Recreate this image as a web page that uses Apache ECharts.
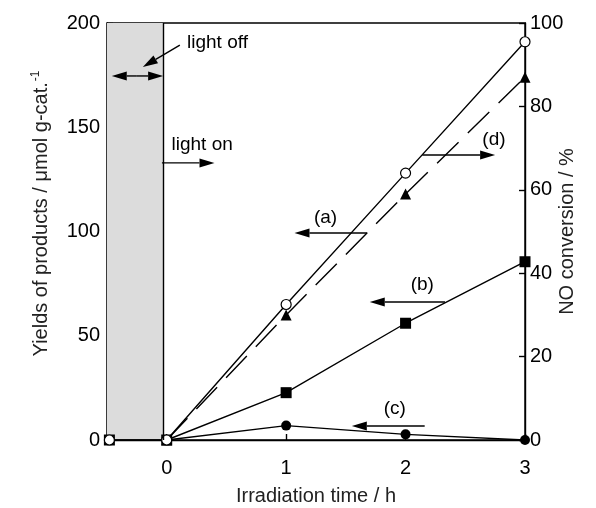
<!DOCTYPE html>
<html>
<head>
<meta charset="utf-8">
<script src="https://cdn.jsdelivr.net/npm/echarts@6/dist/echarts.min.js"></script>
<style>
  html, body { margin: 0; padding: 0; background: #fff; }
  #chart { width: 596px; height: 508px; }
</style>
</head>
<body>
<div id="chart"></div>
<script>
// Irradiation time (h); -0.48 is the dark period before the lamp is switched on
const timeA = [-0.48, 0, 1, 2, 3];
const yieldA = [0, 0, 65, 128, 191];      // (a) µmol g-cat.-1
const timeB = [-0.48, 0, 1, 2, 3];
const yieldB = [0, 0, 22.7, 56, 85.5];    // (b) µmol g-cat.-1
const timeC = [0, 1, 2, 3];
const yieldC = [0, 6.9, 2.7, 0];          // (c) µmol g-cat.-1
const timeD = [0, 1, 2, 3];
const convD = [0, 30, 59, 87];            // (d) NO conversion %

const xTicks = [0, 1, 2, 3];
const darkEnd = -0.03;

// Annotation positions in data units (x: hours, y: left-axis yield)
const notes = [
  { text: 'light off', at: [0.17, 190.4], align: 'left' },
  { text: 'light on', at: [0.04, 141.5], align: 'left' },
  { text: '(a)', at: [1.33, 106.5], align: 'center' },
  { text: '(b)', at: [2.14, 74.3], align: 'center' },
  { text: '(c)', at: [1.91, 14.9], align: 'center' },
  { text: '(d)', at: [2.74, 143.9], align: 'center' }
];
const arrows = [
  { from: [0.11, 189.4], to: [-0.20, 178.9] },
  { from: [-0.25, 174.6], to: [-0.46, 174.6] },
  { from: [-0.25, 174.6], to: [darkEnd, 174.6] },
  { from: [-0.04, 132.9], to: [0.40, 132.9] },
  { from: [1.68, 99.3], to: [1.07, 99.3] },
  { from: [2.33, 66.2], to: [1.70, 66.2] },
  { from: [2.16, 6.7], to: [1.55, 6.7] },
  { from: [2.14, 136.7], to: [2.75, 136.7] }
];

const FONT = '"Liberation Sans", Arial, sans-serif';
const zip = (xs, ys) => xs.map((x, i) => [x, ys[i]]);

const chart = echarts.init(document.getElementById('chart'), null, { renderer: 'canvas' });

const axisCommon = {
  axisLine: { show: true, onZero: false, lineStyle: { color: '#000', width: 1.4 } },
  axisTick: { show: true, inside: true, length: 6, lineStyle: { color: '#000', width: 1.4 } },
  splitLine: { show: false },
  nameLocation: 'middle',
  nameTextStyle: { fontFamily: FONT, fontSize: 20, color: '#222' }
};
const tickLabel = { fontFamily: FONT, fontSize: 20, color: '#000' };

chart.setOption({
  animation: false,
  backgroundColor: '#fff',
  grid: {
    left: 107, right: 71, top: 23, bottom: 68,
    containLabel: false, outerBoundsMode: 'none',
    show: true, borderColor: '#000', borderWidth: 1.4
  },
  xAxis: {
    type: 'value', min: -0.5, max: 3,
    ...axisCommon,
    name: 'Irradiation time / h', nameGap: 46,
    axisTick: { ...axisCommon.axisTick, customValues: xTicks },
    axisLabel: { ...tickLabel, customValues: xTicks, margin: 18 }
  },
  yAxis: [
    {
      type: 'value', min: 0, max: 200, interval: 50, position: 'left',
      ...axisCommon,
      name: 'Yields of products / μmol g-cat.{sup|-1}', nameGap: 54,
      nameTextStyle: { ...axisCommon.nameTextStyle, padding: [0, 0, 0, 36],
        rich: { sup: { fontFamily: FONT, fontSize: 12, color: '#222', padding: [0, 0, 11, 1] } } },
      axisLabel: { ...tickLabel, margin: 7 }
    },
    {
      type: 'value', min: 0, max: 100, interval: 20, position: 'right',
      ...axisCommon,
      name: 'NO conversion / %', nameGap: 32, nameMoveOverlap: false,
      axisLabel: { ...tickLabel, margin: 5 }
    }
  ],
  series: [
    {
      name: 'dark', type: 'line', data: [], silent: true,
      markArea: { silent: true, itemStyle: { color: '#dcdcdc' }, data: [[{ xAxis: -0.5 }, { xAxis: darkEnd }]] },
      markLine: { silent: true, symbol: 'none', label: { show: false },
        lineStyle: { color: '#000', width: 1.4, type: 'solid' }, data: [{ xAxis: darkEnd }] }
    },
    {
      name: '(b)', type: 'line', data: zip(timeB, yieldB), yAxisIndex: 0,
      symbol: 'rect', symbolSize: 11,
      lineStyle: { color: '#000', width: 1.4 }, itemStyle: { color: '#000' }
    },
    {
      name: '(c)', type: 'line', data: zip(timeC, yieldC), yAxisIndex: 0,
      symbol: 'circle', symbolSize: 10,
      lineStyle: { color: '#000', width: 1.4 }, itemStyle: { color: '#000' }
    },
    {
      name: '(d)', type: 'line', data: zip(timeD, convD), yAxisIndex: 1,
      symbol: 'triangle', symbolSize: 11,
      lineStyle: { color: '#000', width: 1.4, type: [30, 13] }, itemStyle: { color: '#000' }
    },
    {
      name: '(a)', type: 'line', data: zip(timeA, yieldA), yAxisIndex: 0,
      symbol: 'circle', symbolSize: 10, showAllSymbol: true,
      lineStyle: { color: '#000', width: 1.4 },
      itemStyle: { color: '#fff', borderColor: '#000', borderWidth: 1.2 }
    }
  ]
});

// Text notes and arrows, placed through the axes' own scales
const px = p => chart.convertToPixel({ xAxisIndex: 0, yAxisIndex: 0 }, p);
const graphics = [];
notes.forEach(n => {
  const p = px(n.at);
  graphics.push({
    type: 'text', x: p[0], y: p[1], z: 100,
    style: { text: n.text, font: '19px ' + FONT, fill: '#000', align: n.align, verticalAlign: 'middle' }
  });
});
arrows.forEach(a => {
  const p0 = px(a.from), p1 = px(a.to);
  const dx = p1[0] - p0[0], dy = p1[1] - p0[1];
  const len = Math.hypot(dx, dy), ux = dx / len, uy = dy / len;
  const L = 15, W = 9;
  const bx = p1[0] - ux * L, by = p1[1] - uy * L;
  graphics.push({
    type: 'line', z: 100,
    shape: { x1: p0[0], y1: p0[1], x2: bx, y2: by },
    style: { stroke: '#000', lineWidth: 1.4 }
  });
  graphics.push({
    type: 'polygon', z: 100,
    shape: { points: [p1, [bx - uy * W / 2, by + ux * W / 2], [bx + uy * W / 2, by - ux * W / 2]] },
    style: { fill: '#000' }
  });
});
chart.setOption({ graphic: graphics });
</script>
</body>
</html>
